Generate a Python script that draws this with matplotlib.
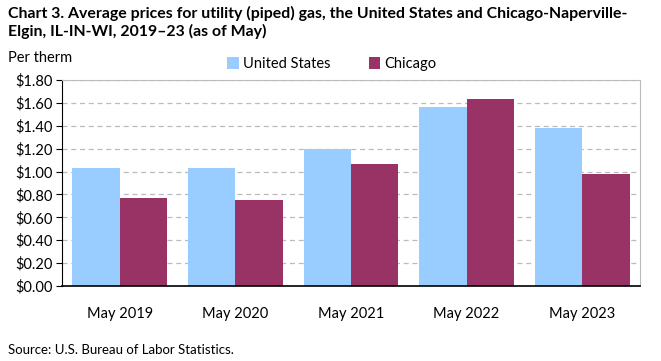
import numpy as np
import matplotlib.pyplot as plt
from matplotlib.ticker import FuncFormatter

# Data
categories = ["May 2019", "May 2020", "May 2021", "May 2022", "May 2023"]
us_prices = [1.03, 1.03, 1.20, 1.56, 1.38]
chicago_prices = [0.77, 0.75, 1.07, 1.63, 0.98]

plt.rcParams['font.family'] = ['Lato', 'DejaVu Sans']

fig = plt.figure(figsize=(6.61, 3.61), dpi=100)
ax = fig.add_axes([62 / 661, 1 - 286 / 361, 578 / 661, 206 / 361])

x = np.arange(len(categories))
w = 0.41
ax.bar(x - w / 2, us_prices, w, color="#99CCFF", label="United States", zorder=2)
ax.bar(x + w / 2, chicago_prices, w, color="#993366", label="Chicago", zorder=2)

ax.set_xlim(-0.5, len(categories) - 0.5)
ax.set_ylim(0, 1.8)
ax.set_yticks(np.arange(0, 1.81, 0.2))
ax.yaxis.set_major_formatter(FuncFormatter(lambda v, p: f"${v:.2f}"))
ax.set_xticks(x)
ax.set_xticklabels(categories)
ax.tick_params(axis='x', length=0, pad=15, labelsize=10.5)
ax.tick_params(axis='y', length=4, direction='out', labelsize=10.5, pad=3)

ax.yaxis.grid(True, linestyle=(0, (4, 3)), color="#BBBBBB", linewidth=0.9, zorder=0)
ax.spines['left'].set_color('black')
ax.spines['bottom'].set_color('black')
ax.spines['bottom'].set_linewidth(1.2)
ax.spines['top'].set_color('#BBBBBB')
ax.spines['right'].set_color('#BBBBBB')

fig.text(8 / 661, 1 - 6 / 361,
         "Chart 3. Average prices for utility (piped) gas, the United States and Chicago-Naperville-\n"
         "Elgin, IL-IN-WI, 2019\u201323 (as of May)",
         fontsize=11.4, fontweight='bold', va='top', ha='left', linespacing=1.2)
fig.text(8 / 661, 1 - 58 / 361, "Per therm", fontsize=10.5, va='center', ha='left')

leg = fig.legend(loc='center', bbox_to_anchor=(332 / 661, 1 - 64 / 361), ncol=2,
                 frameon=False, fontsize=10.5, handlelength=0.8, handleheight=0.8,
                 handletextpad=0.3, columnspacing=2.6)

fig.text(8 / 661, 1 - 350 / 361, "Source: U.S. Bureau of Labor Statistics.",
         fontsize=9.5, va='center', ha='left')

fig.savefig("out.png", dpi=100)
